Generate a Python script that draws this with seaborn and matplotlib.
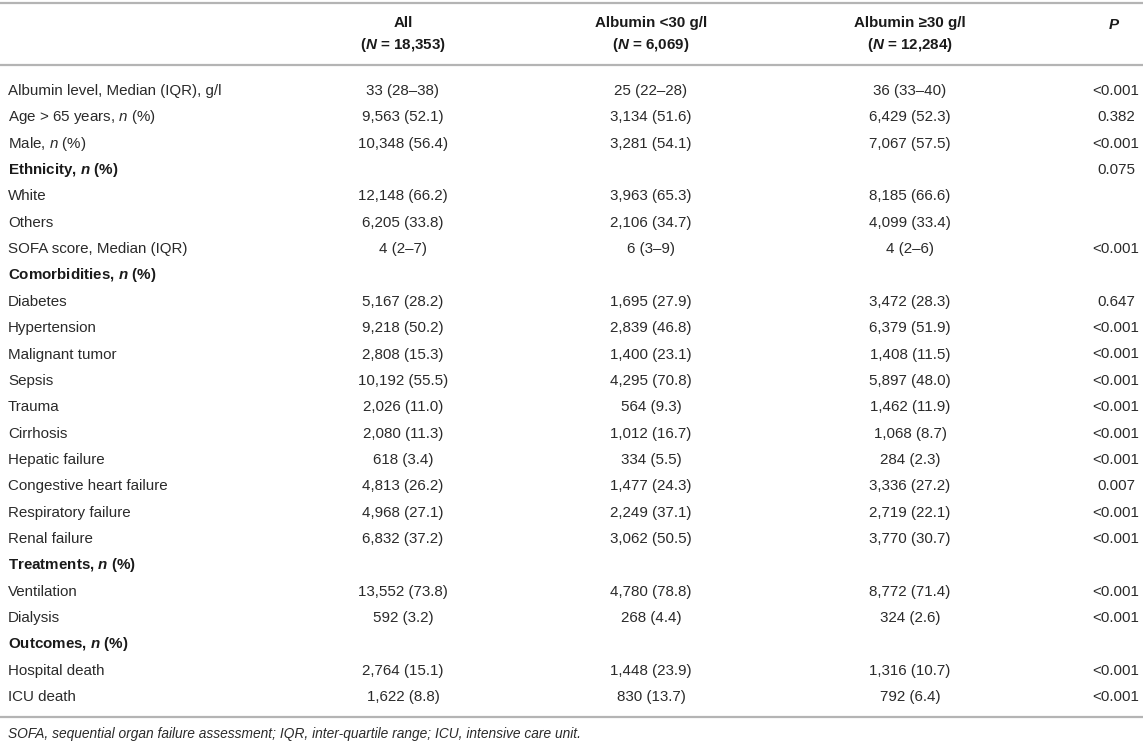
import matplotlib
matplotlib.use("Agg")
import matplotlib.pyplot as plt
import seaborn as sns
import pandas as pd

# Table content
row_labels = [
    "Albumin level, Median (IQR), g/l",
    "Age > 65 years, $\\mathit{n}$ (%)",
    "Male, $\\mathit{n}$ (%)",
    "Ethnicity, $\\mathbfit{n}$ (%)",
    "White",
    "Others",
    "SOFA score, Median (IQR)",
    "Comorbidities, $\\mathbfit{n}$ (%)",
    "Diabetes",
    "Hypertension",
    "Malignant tumor",
    "Sepsis",
    "Trauma",
    "Cirrhosis",
    "Hepatic failure",
    "Congestive heart failure",
    "Respiratory failure",
    "Renal failure",
    "Treatments, $\\mathbfit{n}$ (%)",
    "Ventilation",
    "Dialysis",
    "Outcomes, $\\mathbfit{n}$ (%)",
    "Hospital death",
    "ICU death",
]
is_section = [False, False, False, True, False, False, False, True,
              False, False, False, False, False, False, False, False,
              False, False, True, False, False, True, False, False]

all_vals = ["33 (28–38)", "9,563 (52.1)", "10,348 (56.4)", "", "12,148 (66.2)",
            "6,205 (33.8)", "4 (2–7)", "", "5,167 (28.2)", "9,218 (50.2)",
            "2,808 (15.3)", "10,192 (55.5)", "2,026 (11.0)", "2,080 (11.3)",
            "618 (3.4)", "4,813 (26.2)", "4,968 (27.1)", "6,832 (37.2)", "",
            "13,552 (73.8)", "592 (3.2)", "", "2,764 (15.1)", "1,622 (8.8)"]
low_vals = ["25 (22–28)", "3,134 (51.6)", "3,281 (54.1)", "", "3,963 (65.3)",
            "2,106 (34.7)", "6 (3–9)", "", "1,695 (27.9)", "2,839 (46.8)",
            "1,400 (23.1)", "4,295 (70.8)", "564 (9.3)", "1,012 (16.7)",
            "334 (5.5)", "1,477 (24.3)", "2,249 (37.1)", "3,062 (50.5)", "",
            "4,780 (78.8)", "268 (4.4)", "", "1,448 (23.9)", "830 (13.7)"]
high_vals = ["36 (33–40)", "6,429 (52.3)", "7,067 (57.5)", "", "8,185 (66.6)",
             "4,099 (33.4)", "4 (2–6)", "", "3,472 (28.3)", "6,379 (51.9)",
             "1,408 (11.5)", "5,897 (48.0)", "1,462 (11.9)", "1,068 (8.7)",
             "284 (2.3)", "3,336 (27.2)", "2,719 (22.1)", "3,770 (30.7)", "",
             "8,772 (71.4)", "324 (2.6)", "", "1,316 (10.7)", "792 (6.4)"]
p_vals = ["<0.001", "0.382", "<0.001", "0.075", "", "", "<0.001", "",
          "0.647", "<0.001", "<0.001", "<0.001", "<0.001", "<0.001", "<0.001",
          "0.007", "<0.001", "<0.001", "", "<0.001", "<0.001", "",
          "<0.001", "<0.001"]

col_headers = ["All\n($\\mathbfit{N}$ = 18,353)",
               "Albumin <30 g/l\n($\\mathbfit{N}$ = 6,069)",
               "Albumin ≥30 g/l\n($\\mathbfit{N}$ = 12,284)"]
footnote = ("SOFA, sequential organ failure assessment; IQR, inter-quartile range; "
            "ICU, intensive care unit.")

df = pd.DataFrame({"label": row_labels, "section": is_section, "all": all_vals,
                   "low": low_vals, "high": high_vals, "p": p_vals})

sns.set_theme(style="white")
plt.rcParams["font.family"] = ["Liberation Sans", "DejaVu Sans"]
plt.rcParams["mathtext.fontset"] = "custom"
plt.rcParams["mathtext.rm"] = "Liberation Sans"
plt.rcParams["mathtext.it"] = "Liberation Sans:italic"
plt.rcParams["mathtext.bf"] = "Liberation Sans:bold"
plt.rcParams["mathtext.bfit"] = "Liberation Sans:bold:italic"

W, H = 1143, 744
fig = plt.figure(figsize=(W / 100, H / 100), dpi=100)
ax = fig.add_axes([0, 0, 1, 1])
ax.set_xlim(0, W)
ax.set_ylim(H, 0)
ax.axis("off")

fs = 10.9
txt = "#2a2a2a"
rule = "#b4b4b4"

# horizontal rules
for y in (3, 65, 717):
    ax.axhline(y, color=rule, lw=1.6)

# column headers
col_x = [403, 651, 910]
for x, head in zip(col_x, col_headers):
    ax.text(x, 35, head, ha="center", va="center", fontsize=fs,
            fontweight="bold", color="#1a1a1a", linespacing=1.5)
ax.text(1114, 25, "$\\mathbfit{P}$", ha="center", va="center",
        fontsize=fs, color="#1a1a1a")

# body
y0, dy = 91, 26.35
for i, r in df.iterrows():
    y = y0 + i * dy
    ax.text(8, y, r["label"], ha="left", va="center", fontsize=fs,
            color="#1a1a1a" if r["section"] else txt,
            fontweight="bold" if r["section"] else "normal")
    for x, key in zip(col_x, ["all", "low", "high"]):
        ax.text(x, y, r[key], ha="center", va="center", fontsize=fs, color=txt)
    ax.text(1116, y, r["p"], ha="center", va="center", fontsize=fs, color=txt)

ax.text(8, 734, footnote, ha="left", va="center", fontsize=9.9,
        style="italic", color=txt)

fig.savefig("out.png", dpi=100)
